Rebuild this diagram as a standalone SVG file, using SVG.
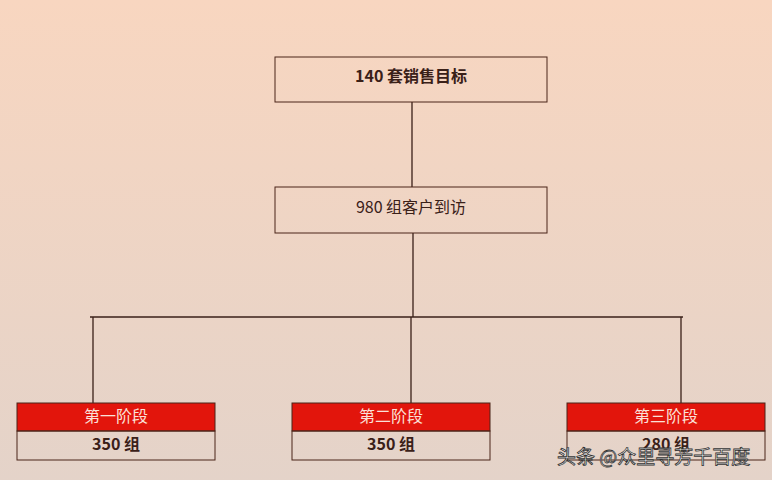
<svg xmlns="http://www.w3.org/2000/svg" width="772" height="480" viewBox="0 0 772 480">
<defs><linearGradient id="bg" x1="0" y1="0" x2="0" y2="1"><stop offset="0" stop-color="#f8d6c0"/><stop offset="1" stop-color="#e4d3c9"/></linearGradient></defs>
<style>
.box{fill:none;stroke:#4a2418;stroke-width:1}
.red{fill:#e2150c;stroke:#4a2418;stroke-width:1}
.t{font-family:"Noto Sans CJK SC",sans-serif;font-size:16px;fill:#3a2018;text-anchor:middle}
.b{font-weight:bold}
.w{fill:#fbe0d8}
.ln{stroke:#3a2018;stroke-width:1.3;fill:none}
</style>
<rect width="772" height="480" fill="url(#bg)"/>
<g id="connectors">
<line class="ln" x1="412" y1="102" x2="412" y2="187"/>
<line class="ln" x1="413" y1="233" x2="413" y2="317"/>
<line class="ln" x1="90" y1="317" x2="683" y2="317"/>
<line class="ln" x1="93" y1="317" x2="93" y2="403"/>
<line class="ln" x1="411" y1="317" x2="411" y2="403"/>
<line class="ln" x1="681" y1="317" x2="681" y2="403"/>
</g>
<g id="goal"><rect class="box" x="275" y="57" width="272" height="45"/><text class="t b" x="411" y="82">140 套销售目标</text></g>
<g id="visits"><rect class="box" x="275" y="187" width="272" height="46"/><text class="t" x="411" y="213">980 组客户到访</text></g>
<g id="stage1"><rect class="red" x="17" y="403" width="198" height="28"/><rect class="box" x="17" y="431" width="198" height="29"/><text class="t w" x="116" y="422">第一阶段</text><text class="t b" x="116" y="450">350 组</text></g>
<g id="stage2"><rect class="red" x="292" y="403" width="198" height="28"/><rect class="box" x="292" y="431" width="198" height="29"/><text class="t w" x="391" y="422">第二阶段</text><text class="t b" x="391" y="450">350 组</text></g>
<g id="stage3"><rect class="red" x="567" y="403" width="198" height="28"/><rect class="box" x="567" y="431" width="198" height="29"/><text class="t w" x="666" y="422">第三阶段</text><text class="t b" x="666" y="450">280 组</text></g>
<text x="557" y="464" font-family="Noto Sans CJK SC,sans-serif" font-size="19" fill="#ffffff" stroke="#333" stroke-width="0.8">头条 @众里寻芳千百度</text>
</svg>
